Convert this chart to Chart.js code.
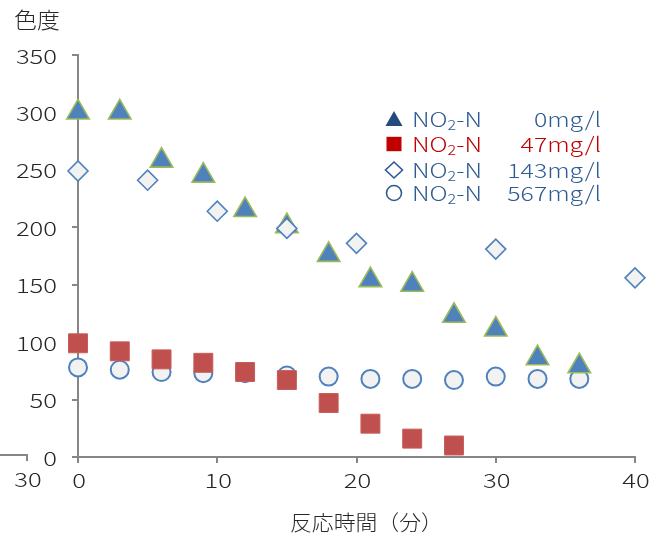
<!DOCTYPE html>
<html>
<head>
<meta charset="utf-8">
<script src="https://cdn.jsdelivr.net/npm/chart.js@4/dist/chart.umd.min.js"></script>
<style>
  html, body { margin: 0; padding: 0; background: #fff; }
  #wrap { width: 658px; height: 541px; position: relative; }
</style>
</head>
<body>
<div id="wrap"><canvas id="c" width="658" height="541"></canvas></div>
<script>
// ---- text ----
const yTitle = '色度';
const xTitle = '反応時間（分）';
const legendName = ['NO', '2', '-N'];          // NO2-N with subscript 2
const legendValues = ['0mg/l', '47mg/l', '143mg/l', '567mg/l'];
const stubLabel = '30';

// ---- axes ----
const xMin = 0, xMax = 40, xStep = 10;
const yMin = 0, yMax = 350, yStep = 50;

// ---- series: reaction time (min) and colour value ----
const timeA = [0, 3, 6, 9, 12, 15, 18, 21, 24, 27, 30, 33, 36];
const colorNO2_0 = [300, 300, 258, 245, 215, 201, 176, 154, 150, 123, 111, 86, 79];

const timeB = [0, 3, 6, 9, 12, 15, 18, 21, 24, 27];
const colorNO2_47 = [99, 92, 85, 82, 74, 67, 47, 29, 16, 10];

const timeC = [0, 5, 10, 15, 20, 30, 40];
const colorNO2_143 = [249, 241, 214, 199, 186, 181, 156];

const timeD = [0, 3, 6, 9, 12, 15, 18, 21, 24, 27, 30, 33, 36];
const colorNO2_567 = [78, 76, 74, 73, 73, 71, 70, 68, 68, 67, 70, 68, 68];

const FONT = "'Noto Sans CJK JP', 'Noto Sans', sans-serif";
const AXIS = '#868686';
const TEXT = '#262626';
const LEG_BLUE = '#2E5B92';
const LEG_MARK = '#23497F';
const LEG_RED = '#C00000';

const pts = (xs, ys) => xs.map((x, i) => ({ x, y: ys[i] }));

// Draws a string with its glyphs widened by sx, anchored by its drawn width.
function wideText(ctx, str, x, y, sx, align) {
  const w = ctx.measureText(str).width * sx;
  let x0 = x;
  if (align === 'right') x0 = x - w;
  else if (align === 'center') x0 = x - w / 2;
  ctx.save();
  ctx.translate(x0, y);
  ctx.scale(sx, 1);
  ctx.textAlign = 'left';
  ctx.fillText(str, 0, 0);
  ctx.restore();
  return w;
}

// tick labels, titles, legend and the axis stub on the left
const decor = {
  id: 'decor',
  afterDraw(chart) {
    const ctx = chart.ctx;
    const a = chart.chartArea;
    const xs = chart.scales.x, ys = chart.scales.y;
    const NUM = 1.28;
    ctx.save();
    ctx.fillStyle = TEXT;
    ctx.textBaseline = 'middle';

    // tick labels
    ctx.font = `300 20px ${FONT}`;
    ys.ticks.forEach(t => {
      wideText(ctx, String(t.value), a.left - 21, ys.getPixelForValue(t.value) + 1, NUM, 'right');
    });
    xs.ticks.forEach(t => {
      wideText(ctx, String(t.value), xs.getPixelForValue(t.value) + 1, a.bottom + 23, NUM, 'center');
    });

    // stub of an axis ending at 30, left of the plot
    const sy = a.bottom - 2;
    ctx.strokeStyle = AXIS;
    ctx.lineWidth = 2;
    ctx.beginPath();
    ctx.moveTo(0, sy);
    ctx.lineTo(27, sy);
    ctx.lineTo(27, sy + 6);
    ctx.stroke();
    wideText(ctx, stubLabel, 28, a.bottom + 22, NUM, 'center');

    // y-axis title above the axis
    ctx.font = `300 22px ${FONT}`;
    wideText(ctx, yTitle, 14, 20, 1.04, 'left');

    // x-axis title
    ctx.font = `300 21px ${FONT}`;
    wideText(ctx, xTitle, a.left + 212, 522, 1.04, 'left');

    // legend
    const rowsY = [119, 144, 170, 193];
    const markX = 394;
    const textX = 412;
    const valueRight = 601;
    const LEG = 1.24;
    rowsY.forEach((y, i) => {
      const col = i === 1 ? LEG_RED : LEG_BLUE;
      ctx.lineWidth = 1.6;
      ctx.beginPath();
      if (i === 0) {
        ctx.moveTo(markX, y - 8);
        ctx.lineTo(markX + 8.5, y + 7);
        ctx.lineTo(markX - 8.5, y + 7);
        ctx.closePath();
        ctx.fillStyle = LEG_MARK;
        ctx.fill();
      } else if (i === 1) {
        ctx.fillStyle = LEG_RED;
        ctx.fillRect(markX - 7.5, y - 7.2, 15, 14.4);
      } else if (i === 2) {
        ctx.moveTo(markX, y - 8);
        ctx.lineTo(markX + 8.5, y);
        ctx.lineTo(markX, y + 8);
        ctx.lineTo(markX - 8.5, y);
        ctx.closePath();
        ctx.strokeStyle = LEG_BLUE;
        ctx.stroke();
      } else {
        ctx.arc(markX, y, 7.5, 0, Math.PI * 2);
        ctx.strokeStyle = LEG_BLUE;
        ctx.stroke();
      }
      ctx.fillStyle = col;
      ctx.font = `300 20px ${FONT}`;
      let x = textX;
      x += wideText(ctx, legendName[0], x, y, LEG, 'left');
      ctx.font = `300 13px ${FONT}`;
      x += wideText(ctx, legendName[1], x, y + 6, LEG, 'left');
      ctx.font = `300 20px ${FONT}`;
      wideText(ctx, legendName[2], x, y, LEG, 'left');
      wideText(ctx, legendValues[i], valueRight, y, LEG, 'right');
    });
    ctx.restore();
  }
};

const axisGrid = { drawOnChartArea: false, drawTicks: true, tickLength: 6, color: AXIS, lineWidth: 2 };

new Chart(document.getElementById('c').getContext('2d'), {
  type: 'scatter',
  data: {
    datasets: [
      {
        label: 'NO2-N 47mg/l',
        data: pts(timeB, colorNO2_47),
        pointStyle: 'rect',
        pointRadius: 13.4,
        backgroundColor: '#C0504D',
        borderColor: '#C65E5B',
        borderWidth: 1,
        clip: false,
        order: 0
      },
      {
        label: 'NO2-N 143mg/l',
        data: pts(timeC, colorNO2_143),
        pointStyle: 'rectRot',
        pointRadius: 10,
        backgroundColor: '#F2F2F2',
        borderColor: '#4F81BD',
        borderWidth: 1.6,
        clip: false,
        order: 1
      },
      {
        label: 'NO2-N 0mg/l',
        data: pts(timeA, colorNO2_0),
        pointStyle: 'triangle',
        pointRadius: 13,
        backgroundColor: '#4F81BD',
        borderColor: '#9BBB59',
        borderWidth: 1.6,
        clip: false,
        order: 2
      },
      {
        label: 'NO2-N 567mg/l',
        data: pts(timeD, colorNO2_567),
        pointStyle: 'circle',
        pointRadius: 9,
        backgroundColor: '#F2F2F2',
        borderColor: '#4F81BD',
        borderWidth: 2,
        clip: false,
        order: 3
      }
    ]
  },
  options: {
    responsive: false,
    animation: false,
    events: [],
    layout: { padding: { left: 0, right: 23, top: 55, bottom: 0 } },
    plugins: { legend: { display: false }, tooltip: { enabled: false }, title: { display: false } },
    scales: {
      x: {
        type: 'linear',
        min: xMin, max: xMax,
        ticks: { stepSize: xStep, display: false },
        grid: axisGrid,
        border: { color: AXIS, width: 2 },
        afterFit(s) { s.height = 84; }
      },
      y: {
        type: 'linear',
        min: yMin, max: yMax,
        ticks: { stepSize: yStep, display: false },
        grid: axisGrid,
        border: { color: AXIS, width: 2 },
        afterFit(s) { s.width = 78; }
      }
    }
  },
  plugins: [decor]
});
</script>
</body>
</html>
